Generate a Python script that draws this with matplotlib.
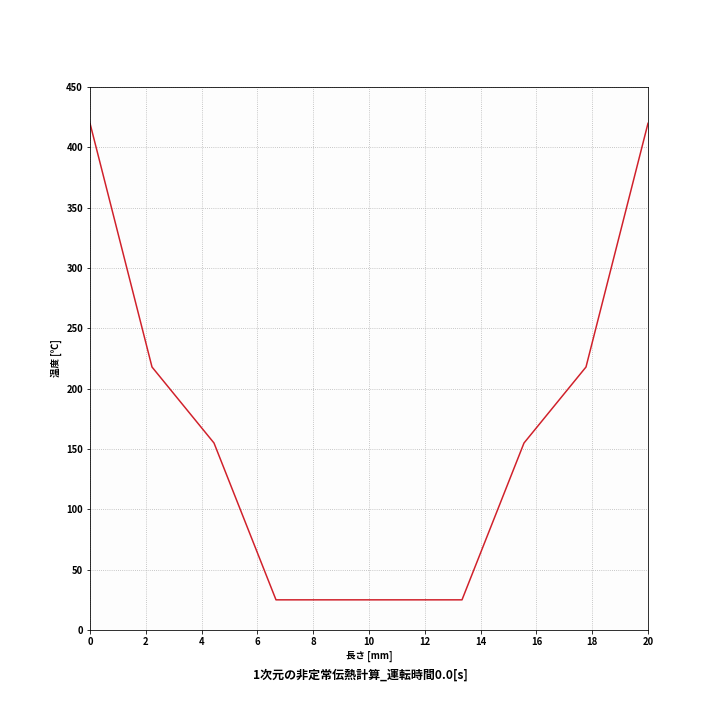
import matplotlib
matplotlib.use("Agg")
import matplotlib.pyplot as plt

plt.rcParams['font.family'] = ['Noto Sans CJK JP', 'DejaVu Sans']
plt.rcParams['font.weight'] = 'bold'
plt.rcParams['axes.labelweight'] = 'bold'

# node positions [mm] and temperatures [C] at t = 0.0 s
length_mm = [0, 20/9, 40/9, 60/9, 80/9, 100/9, 120/9, 140/9, 160/9, 20]
temp_c = [420, 218, 155, 25, 25, 25, 25, 155, 218, 420]
run_time = 0.0

fig = plt.figure(figsize=(10, 10), dpi=72)
ax = fig.add_axes([0.125, 0.125, 0.775, 0.754])
ax.set_facecolor('#fdfdfd')

ax.plot(length_mm, temp_c, color='#d0202a', linewidth=1.5)
ax.set_xlim(0, 20)
ax.set_ylim(0, 450)
ax.set_xticks(range(0, 21, 2))
ax.set_yticks(range(0, 451, 50))
ax.grid(True, linestyle=':', color='#b0b0b0', linewidth=0.8)
ax.tick_params(labelsize=9.5)
ax.set_xlabel('長さ [mm]', fontsize=9.5)
ax.set_ylabel('温度 [℃]', fontsize=9.5)

fig.text(0.5, 0.062, '1次元の非定常伝熱計算_運転時間' + f'{run_time}[s]',
         ha='center', va='center', fontsize=12)

fig.savefig('out.png', dpi=72)
